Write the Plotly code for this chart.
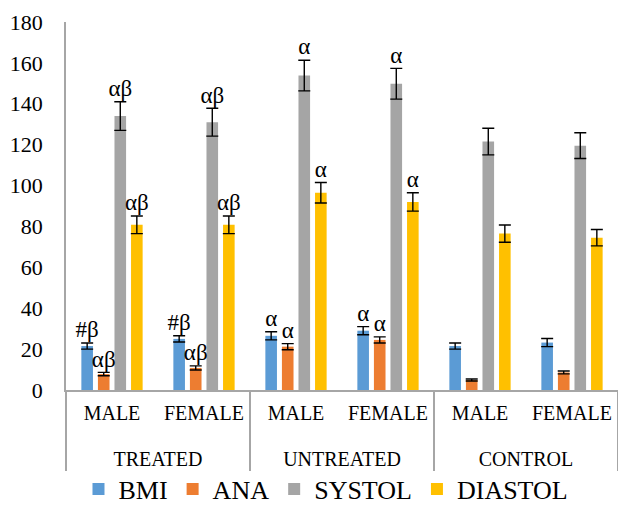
import plotly.graph_objects as go

groups = ["TREATED", "TREATED", "UNTREATED", "UNTREATED", "CONTROL", "CONTROL"]
sexes = ["MALE", "FEMALE", "MALE", "FEMALE", "MALE", "FEMALE"]

series = ["BMI", "ANA", "SYSTOL", "DIASTOL"]
colors = ["#5B9BD5", "#ED7D31", "#A5A5A5", "#FFC000"]

bmi = [21.5, 25, 26.5, 29, 21.5, 23.2]
ana = [7.8, 10.8, 21.2, 24.5, 4.9, 8.6]
systol = [134, 131, 153.8, 149.8, 121.5, 119.5]
diastol = [80.8, 80.8, 96.5, 92, 76.5, 74.5]

bmi_err = [1.5, 1.5, 2, 2, 1.5, 2]
ana_err = [0.8, 1, 1.5, 1.5, 0.5, 0.7]
systol_err = [7, 6.8, 7.5, 7.5, 6.5, 6.3]
diastol_err = [4.3, 4.3, 5, 4.5, 4.2, 4]

bmi_lbl = ["#β", "#β", "α", "α", "", ""]
ana_lbl = ["αβ", "αβ", "α", "α", "", ""]
systol_lbl = ["αβ", "αβ", "α", "α", "", ""]
diastol_lbl = ["αβ", "αβ", "α", "α", "", ""]

values = [bmi, ana, systol, diastol]
errors = [bmi_err, ana_err, systol_err, diastol_err]
labels = [bmi_lbl, ana_lbl, systol_lbl, diastol_lbl]

# outer group labels drawn one line lower, as in the reference
x = [["<br>" + g for g in groups], sexes]
FONT = "Liberation Serif"

fig = go.Figure()
for name, col, v, e in zip(series, colors, values, errors):
    fig.add_trace(go.Bar(
        x=x, y=v, name=name, offsetgroup=name,
        marker=dict(color=col, line=dict(width=0)),
        error_y=dict(type="data", array=e, visible=True, color="black",
                     thickness=1.4, width=6),
    ))

for name, v, e, lb in zip(series, values, errors, labels):
    fig.add_trace(go.Scatter(
        x=x, y=[a + b for a, b in zip(v, e)], mode="text", text=lb,
        textposition="top center", offsetgroup=name,
        textfont=dict(family=FONT, size=23, color="black"),
        showlegend=False, hoverinfo="skip", cliponaxis=False,
    ))

fig.update_layout(
    width=618, height=513,
    margin=dict(l=66, r=0, t=22, b=123),
    plot_bgcolor="white", paper_bgcolor="white",
    barmode="group", bargap=0.28, bargroupgap=0.3,
    scattermode="group", scattergap=0.28,
    font=dict(family=FONT, size=21, color="black"),
    legend=dict(orientation="h", x=0.471, xanchor="center",
                y=-0.333, yanchor="bottom", font=dict(family=FONT, size=26),
                itemwidth=30, tracegroupgap=0, bgcolor="rgba(0,0,0,0)"),
    showlegend=True,
)
fig.update_xaxes(
    type="multicategory", showline=True, linecolor="#A6A6A6", linewidth=1.5,
    showdividers=True, dividercolor="#A6A6A6", dividerwidth=1.5,
    ticks="", tickfont=dict(family=FONT, size=20, color="black"),
    showgrid=False, automargin=False, ticklabelstandoff=4,
)
fig.update_yaxes(
    range=[0, 180], dtick=20, showline=True, linecolor="#A6A6A6", linewidth=1.5,
    showgrid=False, zeroline=False, ticks="", ticklabelstandoff=17,
    tickfont=dict(family=FONT, size=22, color="black"), automargin=False,
)

fig.write_html("out.html", config={"displayModeBar": False},
               post_script="document.body.style.margin='0px';")
